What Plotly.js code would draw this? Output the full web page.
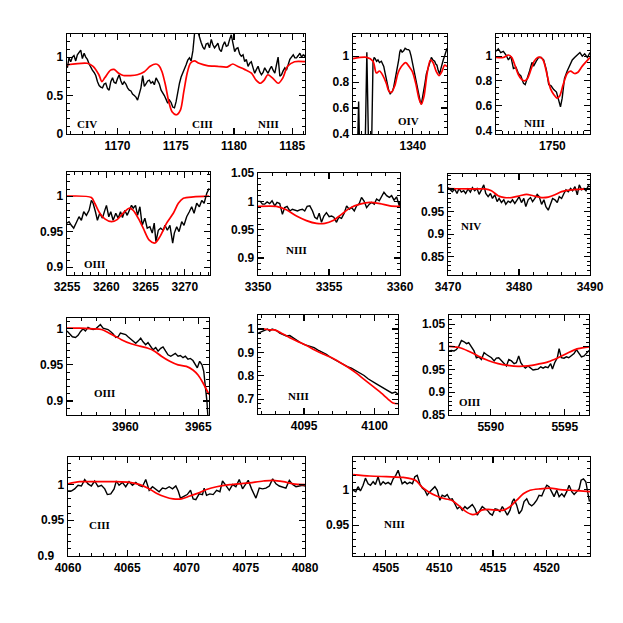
<!DOCTYPE html>
<html>
<head>
<meta charset="utf-8">
<script src="https://cdn.plot.ly/plotly-3.0.1.min.js"></script>
<style>
  html, body { margin: 0; padding: 0; background: #fff; }
  #chart { width: 623px; height: 623px; }
</style>
</head>
<body>
<div id="chart"></div>
<script>
// ===== panel 1 : CIV / CIII / NIII around 1175 =====
const obsW1 = [1165.69,1165.83,1165.98,1166.12,1166.26,1166.41,1166.55,1166.70,1166.84,1166.98,1167.13,1167.27,1167.41,1167.56,1167.70,1167.84,1167.99,1168.13,1168.28,1168.42,1168.56,1168.71,1168.85,1168.99,1169.14,1169.28,1169.42,1169.57,1169.71,1169.86,1170.00,1170.14,1170.29,1170.43,1170.57,1170.72,1170.86,1171.01,1171.15,1171.29,1171.44,1171.58,1171.72,1171.87,1172.01,1172.16,1172.30,1172.44,1172.59,1172.73,1172.87,1173.02,1173.16,1173.31,1173.45,1173.59,1173.74,1173.88,1174.02,1174.17,1174.31,1174.46,1174.60,1174.74,1174.89,1175.03,1175.17,1175.32,1175.46,1175.60,1175.75,1175.89,1176.03,1176.18,1176.32,1176.47,1176.61,1176.75,1176.90,1177.04,1177.18,1177.33,1177.47,1177.61,1177.76,1177.90,1178.05,1178.19,1178.33,1178.48,1178.62,1178.76,1178.91,1179.05,1179.20,1179.34,1179.48,1179.63,1179.77,1179.91,1180.06,1180.20,1180.34,1180.49,1180.63,1180.78,1180.92,1181.06,1181.21,1181.35,1181.49,1181.64,1181.78,1181.93,1182.07,1182.21,1182.36,1182.50,1182.64,1182.79,1182.93,1183.07,1183.22,1183.36,1183.51,1183.65,1183.79,1183.94,1184.08,1184.22,1184.37,1184.51,1184.66,1184.80,1184.94,1185.09,1185.23,1185.37,1185.52,1185.66,1185.80,1185.95,1186.09,1186.24];
const obsF1 = [0.86,0.99,0.94,1.00,1.02,0.95,1.03,1.06,1.09,0.98,1.05,1.00,0.97,0.91,0.86,0.83,0.80,0.76,0.68,0.63,0.61,0.60,0.65,0.66,0.59,0.57,0.68,0.73,0.67,0.66,0.72,0.77,0.69,0.64,0.68,0.65,0.60,0.57,0.56,0.52,0.50,0.48,0.44,0.51,0.60,0.76,0.62,0.65,0.69,0.70,0.66,0.68,0.64,0.73,0.68,0.65,0.57,0.54,0.50,0.45,0.40,0.44,0.41,0.35,0.34,0.42,0.55,0.66,0.74,0.79,0.83,0.90,0.96,0.99,0.95,1.08,1.30,1.36,1.33,1.24,1.19,1.13,1.10,1.17,1.18,1.12,1.23,1.16,1.12,1.15,1.18,1.10,1.07,1.15,1.20,1.14,1.15,1.23,1.29,1.18,1.07,1.11,1.12,1.04,1.01,1.03,0.94,0.97,0.88,0.92,0.94,0.86,0.79,0.84,0.88,0.81,0.77,0.80,0.86,0.82,0.79,0.84,0.88,0.83,0.79,0.90,1.00,0.75,0.77,0.82,0.86,0.83,0.91,0.97,1.00,1.03,0.99,0.99,1.02,1.05,1.00,1.03,1.01,1.07];
const fitW1 = [1165.66,1167.40,1167.90,1168.40,1168.65,1168.90,1169.40,1169.70,1170.10,1170.50,1171.10,1171.70,1172.30,1172.80,1173.30,1173.55,1173.82,1174.11,1174.40,1174.68,1175.06,1175.40,1175.69,1175.98,1176.26,1176.60,1177.00,1177.70,1178.60,1179.40,1179.90,1180.30,1180.90,1181.50,1181.90,1182.25,1182.60,1182.90,1183.30,1183.80,1184.20,1184.60,1185.20,1186.10];
const fitF1 = [0.90,0.92,0.88,0.77,0.68,0.73,0.83,0.84,0.79,0.76,0.76,0.77,0.81,0.88,0.91,0.89,0.81,0.64,0.42,0.29,0.25,0.31,0.55,0.79,0.92,0.95,0.92,0.89,0.88,0.87,0.91,0.88,0.84,0.79,0.70,0.66,0.70,0.77,0.73,0.66,0.73,0.88,0.94,0.94];
const ions1 = ["CIV", "CIII", "NIII"];

// ===== panel 2 : OIV 1340 =====
const obsW2 = [1333.50,1333.66,1333.80,1334.40,1334.62,1334.85,1335.15,1335.34,1335.47,1335.60,1335.76,1335.92,1336.10,1336.32,1336.47,1336.60,1336.75,1336.90,1337.05,1337.20,1337.35,1337.49,1337.62,1337.76,1337.92,1338.07,1338.20,1338.35,1338.47,1338.58,1338.75,1338.93,1339.10,1339.32,1339.50,1339.63,1339.80,1339.95,1340.10,1340.22,1340.38,1340.53,1340.68,1340.80,1340.90,1341.00,1341.12,1341.27,1341.42,1341.58,1341.74,1341.89,1342.03,1342.17,1342.35,1342.55,1342.68,1342.82,1342.97,1343.14,1343.27,1343.40,1343.56,1343.72,1343.86,1344.00];
const obsF2 = [0.20,0.65,0.20,0.20,1.03,0.20,0.20,0.95,0.99,0.98,0.96,0.97,0.95,0.96,0.94,0.92,0.87,0.82,0.77,0.73,0.71,0.72,0.73,0.76,0.81,0.86,0.92,0.97,1.03,1.05,1.03,1.04,1.06,1.05,1.05,1.04,1.00,0.95,0.90,0.87,0.81,0.76,0.70,0.66,0.64,0.63,0.67,0.72,0.79,0.86,0.90,0.93,0.96,0.99,0.97,0.96,0.94,0.93,0.89,0.86,0.90,0.94,0.97,1.00,1.03,1.06];
const fitW2 = [1333.00,1334.60,1335.34,1335.73,1336.10,1336.50,1336.90,1337.20,1337.49,1337.88,1338.27,1338.66,1339.17,1339.56,1339.95,1340.34,1340.73,1341.00,1341.31,1341.66,1342.05,1342.36,1342.75,1343.06,1343.40,1343.72,1344.00];
const fitF2 = [0.98,0.99,0.96,0.87,0.885,0.85,0.79,0.73,0.72,0.77,0.87,0.92,0.95,0.92,0.88,0.79,0.67,0.63,0.69,0.86,0.97,0.95,0.88,0.85,0.88,0.93,0.92];
const ions2 = ["OIV"];

// ===== panel 3 : NIII 1750 =====
const obsW3 = [1741.00,1741.37,1741.75,1742.17,1742.60,1742.98,1743.36,1743.78,1744.20,1744.58,1744.97,1745.39,1745.66,1746.03,1746.36,1746.74,1747.00,1747.43,1747.80,1748.19,1748.60,1749.04,1749.41,1749.79,1750.21,1750.65,1751.02,1751.29,1751.56,1751.93,1752.36,1752.78,1753.17,1753.54,1753.97,1754.39,1754.77,1755.15,1755.58,1756.00];
const obsF3 = [1.04,1.06,1.03,1.04,1.01,0.97,1.00,0.90,0.91,0.86,0.84,0.78,0.77,0.84,0.88,0.95,0.92,0.96,0.99,0.99,0.97,0.89,0.77,0.76,0.73,0.71,0.65,0.59,0.66,0.82,0.88,0.93,0.97,0.99,1.01,1.03,1.00,1.02,0.99,1.03];
const fitW3 = [1741.00,1742.17,1742.98,1743.52,1744.06,1744.58,1745.12,1745.55,1746.03,1746.57,1747.10,1747.64,1748.19,1748.60,1749.15,1749.68,1750.21,1750.75,1751.18,1751.72,1752.36,1752.90,1753.54,1754.08,1754.77,1755.47,1756.00];
const fitF3 = [0.99,0.99,1.01,0.99,0.92,0.85,0.81,0.80,0.82,0.89,0.96,0.99,0.99,0.96,0.85,0.74,0.69,0.66,0.68,0.77,0.86,0.88,0.86,0.87,0.92,0.96,0.99];
const ions3 = ["NIII"];

// ===== panel 4 : OIII 3265 =====
const obsW4 = [3255.00,3255.26,3255.55,3255.85,3256.19,3256.53,3256.83,3257.13,3257.47,3257.81,3258.10,3258.32,3258.62,3258.87,3259.17,3259.51,3259.81,3260.02,3260.32,3260.57,3260.87,3261.21,3261.51,3261.81,3262.06,3262.36,3262.66,3262.91,3263.21,3263.43,3263.72,3263.98,3264.28,3264.57,3264.91,3265.21,3265.55,3265.85,3266.10,3266.32,3266.62,3266.91,3267.26,3267.47,3267.77,3268.10,3268.45,3268.66,3268.96,3269.26,3269.60,3269.89,3270.23,3270.57,3270.87,3271.17,3271.51,3271.85,3272.15,3272.45,3272.79,3273.09];
const obsF4 = [0.962,0.964,0.959,0.955,0.963,0.971,0.966,0.978,0.973,0.980,0.994,0.990,0.978,0.966,0.976,0.969,0.980,0.987,0.971,0.978,0.966,0.976,0.969,0.978,0.970,0.980,0.973,0.980,0.987,0.983,0.987,0.973,0.985,0.959,0.969,0.955,0.957,0.948,0.962,0.936,0.952,0.955,0.952,0.959,0.952,0.959,0.934,0.948,0.957,0.950,0.964,0.959,0.971,0.978,0.985,0.976,0.990,0.985,0.994,0.990,1.004,1.011];
const fitW4 = [3255.00,3258.10,3258.53,3259.17,3259.81,3260.66,3261.38,3262.15,3262.91,3263.43,3264.06,3264.70,3265.47,3266.19,3266.83,3267.68,3268.53,3269.17,3269.81,3271.09,3273.09];
const fitF4 = [1.000,0.998,0.990,0.976,0.968,0.964,0.967,0.976,0.983,0.980,0.969,0.955,0.938,0.934,0.943,0.962,0.976,0.990,0.997,0.999,1.000];
const ions4 = ["OIII"];

// ===== panel 5 : NIII 3355 =====
const obsW5 = [3350.00,3350.16,3350.31,3350.47,3350.64,3350.82,3350.99,3351.18,3351.34,3351.53,3351.72,3351.88,3352.05,3352.24,3352.42,3352.59,3352.78,3352.94,3353.13,3353.29,3353.46,3353.65,3353.84,3354.00,3354.16,3354.31,3354.47,3354.64,3354.82,3355.01,3355.18,3355.34,3355.53,3355.69,3355.88,3356.07,3356.24,3356.42,3356.59,3356.78,3356.94,3357.13,3357.29,3357.46,3357.65,3357.84,3358.00,3358.19,3358.35,3358.54,3358.71,3358.87,3359.06,3359.25,3359.41,3359.58,3359.76,3359.95,3360.00];
const obsF5 = [1.000,1.000,0.995,0.995,0.999,0.996,1.001,0.992,0.998,0.996,0.977,0.989,0.991,0.983,0.986,0.985,0.983,0.985,0.986,0.983,0.991,0.992,0.983,0.972,0.969,0.979,0.963,0.974,0.980,0.973,0.974,0.972,0.963,0.972,0.970,0.979,0.992,0.986,0.989,0.983,0.992,0.996,1.007,1.001,0.989,0.995,0.998,0.995,1.004,1.001,1.010,1.016,1.010,1.007,1.010,1.002,1.008,0.992,1.000];
const fitW5 = [3350.00,3351.29,3352.00,3352.71,3353.41,3354.12,3354.71,3355.29,3355.88,3356.47,3357.18,3357.88,3358.59,3359.29,3360.00];
const fitF5 = [0.991,0.991,0.985,0.974,0.966,0.961,0.961,0.966,0.977,0.988,0.995,0.998,0.996,0.992,0.991];
const ions5 = ["NIII"];

// ===== panel 6 : NIV 3480 =====
const obsW6 = [3470.00,3470.33,3470.61,3470.94,3471.27,3471.55,3471.88,3472.21,3472.49,3472.82,3473.15,3473.44,3473.76,3474.09,3474.38,3474.71,3475.04,3475.32,3475.65,3475.98,3476.26,3476.59,3476.92,3477.20,3477.53,3477.86,3478.14,3478.47,3478.80,3479.08,3479.41,3479.74,3480.02,3480.35,3480.68,3480.96,3481.29,3481.62,3481.91,3482.24,3482.56,3482.85,3483.18,3483.51,3483.79,3484.12,3484.45,3484.73,3485.06,3485.39,3485.67,3486.00,3486.33,3486.61,3486.94,3487.27,3487.55,3487.88,3488.21,3488.49,3488.82,3489.15,3489.44,3489.76,3490.00];
const obsF6 = [1.003,0.998,0.994,1.000,0.990,1.001,0.993,0.996,0.990,1.000,0.993,1.003,0.996,1.001,0.988,0.998,1.009,0.990,0.983,0.990,0.979,0.987,0.972,0.979,0.970,0.976,0.966,0.973,0.970,0.976,0.968,0.976,0.983,0.970,0.979,0.961,0.976,0.981,0.972,0.979,0.988,0.983,0.966,0.976,0.961,0.953,0.968,0.979,0.976,0.970,0.983,0.979,0.990,0.998,0.994,1.001,0.996,1.005,0.987,1.009,0.998,1.001,0.996,1.007,1.005];
const fitW6 = [3470.00,3473.30,3475.18,3476.12,3477.06,3478.00,3478.94,3480.12,3481.06,3482.00,3483.18,3484.12,3485.06,3486.00,3487.41,3490.00];
const fitF6 = [1.001,1.000,1.000,0.996,0.985,0.981,0.981,0.985,0.988,0.985,0.981,0.982,0.987,0.994,0.998,1.000];
const ions6 = ["NIV"];

// ===== panel 7 : OIII 3962 =====
const obsW7 = [3956.00,3956.19,3956.37,3956.58,3956.76,3956.92,3957.10,3957.26,3957.44,3957.63,3957.79,3957.97,3958.13,3958.29,3958.47,3958.65,3958.81,3959.00,3959.16,3959.34,3959.50,3959.66,3959.84,3960.02,3960.18,3960.34,3960.53,3960.71,3960.87,3961.05,3961.21,3961.39,3961.55,3961.74,3961.89,3962.08,3962.24,3962.42,3962.58,3962.76,3962.92,3963.11,3963.26,3963.42,3963.61,3963.77,3963.95,3964.11,3964.29,3964.45,3964.63,3964.79,3964.93,3965.09,3965.25,3965.37,3965.48,3965.59,3965.68];
const obsF7 = [0.997,0.993,0.989,0.988,0.991,0.996,1.000,0.997,1.002,1.000,0.999,1.000,1.003,1.006,1.001,1.000,0.999,0.996,0.993,0.988,0.989,0.994,0.993,0.992,0.989,0.986,0.983,0.980,0.983,0.987,0.982,0.978,0.981,0.975,0.971,0.974,0.969,0.973,0.975,0.969,0.964,0.962,0.964,0.966,0.962,0.963,0.960,0.962,0.958,0.959,0.956,0.951,0.946,0.955,0.950,0.941,0.922,0.899,0.870];
const fitW7 = [3956.00,3956.87,3957.79,3958.36,3958.81,3959.27,3959.73,3960.30,3960.98,3961.55,3962.00,3962.47,3963.04,3963.61,3964.18,3964.63,3964.98,3965.32,3965.73];
const fitF7 = [1.001,1.001,1.000,0.999,0.995,0.990,0.985,0.980,0.976,0.973,0.969,0.962,0.955,0.950,0.948,0.943,0.936,0.925,0.909];
const ions7 = ["OIII"];

// ===== panel 8 : NIII 4097 =====
const obsW8 = [4091.75,4091.98,4092.22,4092.41,4092.57,4092.74,4092.92,4093.11,4093.28,4093.51,4093.75,4093.99,4094.22,4094.53,4094.81,4095.09,4095.40,4095.71,4095.99,4096.27,4096.58,4096.89,4097.17,4097.45,4097.76,4098.07,4098.35,4098.63,4098.94,4099.25,4099.53,4099.81,4100.12,4100.42,4100.71,4100.99,4101.23,4101.46,4101.65];
const obsF8 = [0.982,0.989,0.996,1.000,0.991,1.000,0.996,0.991,0.982,0.977,0.970,0.972,0.963,0.949,0.939,0.932,0.925,0.920,0.910,0.903,0.892,0.878,0.868,0.861,0.849,0.839,0.832,0.822,0.814,0.801,0.787,0.775,0.765,0.754,0.744,0.735,0.725,0.730,0.721];
const fitW8 = [4091.75,4092.22,4092.57,4092.92,4093.40,4093.99,4094.58,4095.17,4095.75,4096.34,4096.93,4097.52,4098.11,4098.70,4099.29,4099.88,4100.47,4100.94,4101.30,4101.65];
const fitF8 = [1.000,1.000,0.996,0.996,0.982,0.963,0.946,0.929,0.910,0.893,0.878,0.858,0.836,0.811,0.782,0.754,0.725,0.700,0.683,0.680];
const ions8 = ["NIII"];

// ===== panel 9 : OIII 5592 =====
const obsW9 = [5587.18,5587.34,5587.52,5587.68,5587.84,5588.02,5588.20,5588.36,5588.51,5588.69,5588.87,5589.03,5589.19,5589.37,5589.55,5589.71,5589.86,5590.05,5590.23,5590.38,5590.54,5590.72,5590.90,5591.06,5591.22,5591.40,5591.58,5591.73,5591.89,5592.03,5592.18,5592.34,5592.52,5592.70,5592.86,5593.02,5593.20,5593.38,5593.54,5593.69,5593.87,5594.05,5594.17,5594.32,5594.50,5594.62,5594.77,5594.95,5595.11,5595.27,5595.45,5595.63,5595.79,5595.95,5596.13,5596.31,5596.46,5596.64];
const obsF9 = [0.991,0.992,0.991,0.994,1.001,1.014,1.011,1.007,1.009,1.001,0.991,0.976,0.978,0.972,0.987,0.983,0.980,0.976,0.969,0.975,0.976,0.970,0.962,0.958,0.972,0.969,0.963,0.965,0.980,0.965,0.958,0.953,0.958,0.953,0.949,0.950,0.951,0.956,0.953,0.956,0.954,0.963,0.951,0.965,0.976,0.996,0.976,0.975,0.978,0.976,0.980,0.985,0.994,0.985,0.978,0.980,0.985,0.992];
const fitW9 = [5587.18,5587.79,5588.47,5589.14,5589.82,5590.50,5591.17,5591.85,5592.52,5593.20,5593.87,5594.55,5595.23,5595.90,5596.64];
const fitF9 = [1.001,0.999,0.991,0.980,0.970,0.963,0.959,0.957,0.958,0.962,0.967,0.976,0.987,0.996,1.000];
const ions9 = ["OIII"];

// ===== panel 10 : CIII 4070 =====
const obsW10 = [4060.00,4060.28,4060.56,4060.85,4061.13,4061.41,4061.69,4061.97,4062.25,4062.54,4062.82,4063.10,4063.32,4063.61,4063.89,4064.08,4064.31,4064.59,4064.87,4065.15,4065.44,4065.72,4066.00,4066.28,4066.56,4066.85,4067.13,4067.41,4067.69,4067.97,4068.25,4068.54,4068.82,4069.10,4069.30,4069.49,4069.77,4070.06,4070.34,4070.56,4070.79,4071.07,4071.35,4071.49,4071.69,4071.97,4072.25,4072.54,4072.82,4073.04,4073.32,4073.61,4073.89,4074.17,4074.45,4074.73,4075.01,4075.21,4075.49,4075.86,4076.14,4076.42,4076.70,4076.99,4077.27,4077.55,4077.83,4078.11,4078.39,4078.68,4078.96,4079.24,4079.52,4079.80,4080.00];
const obsF10 = [0.991,0.991,0.994,0.999,0.998,1.007,1.001,0.998,1.005,0.997,0.999,0.994,0.986,0.987,0.994,1.005,0.999,1.003,0.997,1.004,0.999,1.003,0.999,0.997,1.007,0.992,0.997,0.993,0.990,0.995,0.994,0.997,0.994,0.998,0.991,0.981,0.984,0.986,0.992,0.980,0.979,0.987,0.986,0.995,0.985,0.987,0.986,0.992,0.990,1.005,0.999,0.992,1.000,0.997,1.007,0.994,1.001,1.006,0.994,0.981,0.995,0.994,0.995,0.998,1.008,1.001,0.998,0.997,0.995,1.006,1.000,0.997,0.998,0.999,0.998];
const fitW10 = [4060.00,4060.99,4062.39,4064.08,4065.21,4066.06,4066.76,4067.46,4068.17,4068.87,4069.58,4070.28,4070.99,4071.69,4072.54,4073.66,4075.07,4076.48,4077.32,4078.17,4079.01,4080.00];
const fitF10 = [1.001,1.004,1.004,1.004,1.003,1.000,0.995,0.988,0.983,0.980,0.980,0.984,0.988,0.993,0.997,1.000,1.002,1.005,1.006,1.004,1.001,1.000];
const ions10 = ["CIII"];
// y tick labels of this panel; the bottom one sits further left, clear of "4060"
const yTickVals10 = [0.9, 0.95, 1];
const yTickText10 = ["0.9\u00a0\u00a0\u00a0", "0.95", "1"];

// ===== panel 11 : NIII 4515 =====
const obsW11 = [4501.95,4502.20,4502.41,4502.63,4502.88,4503.10,4503.35,4503.57,4503.82,4504.03,4504.28,4504.50,4504.75,4504.97,4505.22,4505.47,4505.69,4505.93,4506.15,4506.31,4506.53,4506.78,4506.99,4507.24,4507.49,4507.71,4507.93,4508.18,4508.40,4508.64,4508.86,4509.11,4509.33,4509.58,4509.80,4510.05,4510.26,4510.51,4510.73,4510.98,4511.20,4511.45,4511.67,4511.92,4512.13,4512.38,4512.60,4512.85,4513.07,4513.32,4513.54,4513.79,4514.00,4514.25,4514.47,4514.72,4514.94,4515.19,4515.40,4515.65,4515.87,4516.12,4516.34,4516.59,4516.81,4516.96,4517.21,4517.43,4517.68,4517.90,4518.15,4518.36,4518.61,4518.83,4519.08,4519.30,4519.55,4519.77,4520.02,4520.23,4520.48,4520.70,4520.95,4521.17,4521.42,4521.64,4521.88,4522.10,4522.35,4522.57,4522.82,4523.04,4523.22,4523.44,4523.66,4523.85,4524.00];
const obsF11 = [0.999,0.997,1.004,0.998,1.006,1.016,1.008,1.006,1.011,1.007,1.018,1.006,1.011,1.008,1.010,1.007,1.015,1.020,1.027,1.018,1.008,1.011,1.008,1.010,1.008,1.018,1.020,1.008,1.002,0.999,0.992,0.997,1.001,1.004,0.999,0.985,0.992,0.990,0.993,0.986,0.987,0.980,0.973,0.976,0.971,0.976,0.973,0.976,0.979,0.973,0.964,0.971,0.976,0.973,0.971,0.966,0.964,0.973,0.972,0.969,0.976,0.970,0.964,0.971,0.983,0.987,0.978,0.966,0.971,0.983,0.987,0.980,0.977,0.980,0.985,0.992,0.991,0.999,1.006,1.004,0.997,0.990,0.999,0.990,0.994,0.990,0.997,1.006,0.997,0.993,0.997,1.001,1.013,1.015,1.011,0.992,0.983];
const fitW11 = [4501.95,4503.50,4505.06,4506.62,4507.40,4507.87,4508.33,4508.96,4509.74,4510.51,4511.14,4511.76,4512.38,4513.01,4513.47,4513.94,4514.56,4515.34,4515.97,4516.59,4517.21,4517.83,4518.46,4519.39,4520.33,4521.26,4522.20,4523.13,4524.07];
const fitF11 = [1.021,1.019,1.018,1.017,1.015,1.012,1.004,0.997,0.991,0.987,0.985,0.978,0.970,0.965,0.966,0.971,0.972,0.971,0.971,0.976,0.985,0.994,0.999,1.001,1.002,1.000,0.999,0.998,0.997];
const ions11 = ["NIII"];

// ====== レイアウト（ピクセル単位の枠） ======
const W = 623, H = 623;
const panels = [
  { obsW: obsW1, obsF: obsF1, fitW: fitW1, fitF: fitF1, ions: ions1, box: [67, 305, 34, 134], xr: [1165.66, 1186.1], yr: [0, 1.3], xd: 5, xm: 1, yd: 0.5, ym: 0.1, at: [[1167.4, 0.13], [1177.3, 0.13], [1183.0, 0.13]] },
  { obsW: obsW2, obsF: obsF2, fitW: fitW2, fitF: fitF2, ions: ions2, box: [353, 447, 34, 134], xr: [1333, 1344], yr: [0.4, 1.17], xd: 10, xm: 1, yd: 0.2, ym: 0.05, at: [[1339.5, 0.5]] },
  { obsW: obsW3, obsF: obsF3, fitW: fitW3, fitF: fitF3, ions: ions3, box: [496, 590, 34, 134], xr: [1741, 1756], yr: [0.37, 1.18], xd: 10, xm: 1, yd: 0.2, ym: 0.05, at: [[1747.1, 0.46]] },
  { obsW: obsW4, obsF: obsF4, fitW: fitW4, fitF: fitF4, ions: ions4, box: [67, 210, 172, 275], xr: [3255, 3273.2], yr: [0.889, 1.034], xd: 5, xm: 1, yd: 0.05, ym: 0.01, at: [[3258.5, 0.905]] },
  { obsW: obsW5, obsF: obsF5, fitW: fitW5, fitF: fitF5, ions: ions5, box: [258, 400, 173, 275], xr: [3350, 3360], yr: [0.87, 1.05], xd: 5, xm: 1, yd: 0.05, ym: 0.01, at: [[3352.7, 0.915]] },
  { obsW: obsW6, obsF: obsF6, fitW: fitW6, fitF: fitF6, ions: ions6, box: [448, 590, 174, 275], xr: [3470, 3490], yr: [0.81, 1.033], xd: 10, xm: 2, yd: 0.05, ym: 0.01, at: [[3473.3, 0.918]] },
  { obsW: obsW7, obsF: obsF7, fitW: fitW7, fitF: fitF7, ions: ions7, box: [67, 209, 318, 415], xr: [3956, 3965.73], yr: [0.8806, 1.015], xd: 5, xm: 1, yd: 0.05, ym: 0.01, at: [[3958.6, 0.9115]] },
  { obsW: obsW8, obsF: obsF8, fitW: fitW8, fitF: fitF8, ions: ions8, box: [258, 398, 315, 414], xr: [4091.74, 4101.65], yr: [0.636, 1.06], xd: 5, xm: 1, yd: 0.1, ym: 0.02, at: [[4094.64, 0.715]] },
  { obsW: obsW9, obsF: obsF9, fitW: fitW9, fitF: fitF9, ions: ions9, box: [449, 589, 315, 415], xr: [5587.18, 5596.64], yr: [0.85, 1.07], xd: 5, xm: 1, yd: 0.05, ym: 0.01, at: [[5588.58, 0.878]] },
  { obsW: obsW10, obsF: obsF10, fitW: fitW10, fitF: fitF10, ions: ions10, box: [68, 305, 457, 556], xr: [4060, 4080], yr: [0.9, 1.0386], xd: 5, xm: 1, yd: 0.05, ym: 0.01, at: [[4062.7, 0.9433]], yvals: yTickVals10, ytext: yTickText10 },
  { obsW: obsW11, obsF: obsF11, fitW: fitW11, fitF: fitF11, ions: ions11, box: [353, 590, 457, 556], xr: [4501.94, 4524.05], yr: [0.9066, 1.0457], xd: 5, xm: 1, yd: 0.05, ym: 0.01, at: [[4505.84, 0.9514]] }
];

const tickFont = { family: "Liberation Sans, Arial, sans-serif", size: 12, color: "#000", weight: "bold" };
const labelFont = { family: "Liberation Serif, Times New Roman, serif", size: 11, color: "#000", weight: "bold" };

function axisStyle(dtick, minorDtick) {
  return {
    showline: true,
    linecolor: "#000",
    linewidth: 1.3,
    mirror: "ticks",
    ticks: "inside",
    ticklen: 6,
    tickwidth: 1.1,
    tickcolor: "#000",
    tick0: 0,
    dtick: dtick,
    minor: { ticks: "inside", ticklen: 3, tickwidth: 1, tickcolor: "#000", dtick: minorDtick, showgrid: false },
    showgrid: false,
    zeroline: false,
    fixedrange: true,
    tickfont: tickFont
  };
}

const data = [];
const annotations = [];
const layout = {
  width: W,
  height: H,
  margin: { l: 0, r: 0, t: 0, b: 0 },
  paper_bgcolor: "#fff",
  plot_bgcolor: "#fff",
  showlegend: false
};

panels.forEach((p, i) => {
  const n = i === 0 ? "" : String(i + 1);
  data.push({
    type: "scatter", mode: "lines", x: p.obsW, y: p.obsF,
    xaxis: "x" + n, yaxis: "y" + n,
    line: { color: "#000", width: 1.4 }, hoverinfo: "skip"
  });
  data.push({
    type: "scatter", mode: "lines", x: p.fitW, y: p.fitF,
    xaxis: "x" + n, yaxis: "y" + n,
    line: { color: "#ff0000", width: 1.7, shape: "spline", smoothing: 0.8 }, hoverinfo: "skip"
  });

  layout["xaxis" + n] = Object.assign(axisStyle(p.xd, p.xm), {
    domain: [p.box[0] / W, p.box[1] / W],
    range: p.xr,
    anchor: "y" + n
  });
  const yax = Object.assign(axisStyle(p.yd, p.ym), {
    domain: [1 - p.box[3] / H, 1 - p.box[2] / H],
    range: p.yr,
    anchor: "x" + n
  });
  if (p.yvals) {
    yax.tickmode = "array";
    yax.tickvals = p.yvals;
    yax.ticktext = p.ytext;
  }
  layout["yaxis" + n] = yax;

  p.ions.forEach((txt, k) => {
    annotations.push({
      xref: "x" + n, yref: "y" + n,
      x: p.at[k][0], y: p.at[k][1],
      text: txt, showarrow: false, font: labelFont
    });
  });
});

layout.annotations = annotations;

Plotly.newPlot("chart", data, layout, { displayModeBar: false, staticPlot: true });
</script>
</body>
</html>
